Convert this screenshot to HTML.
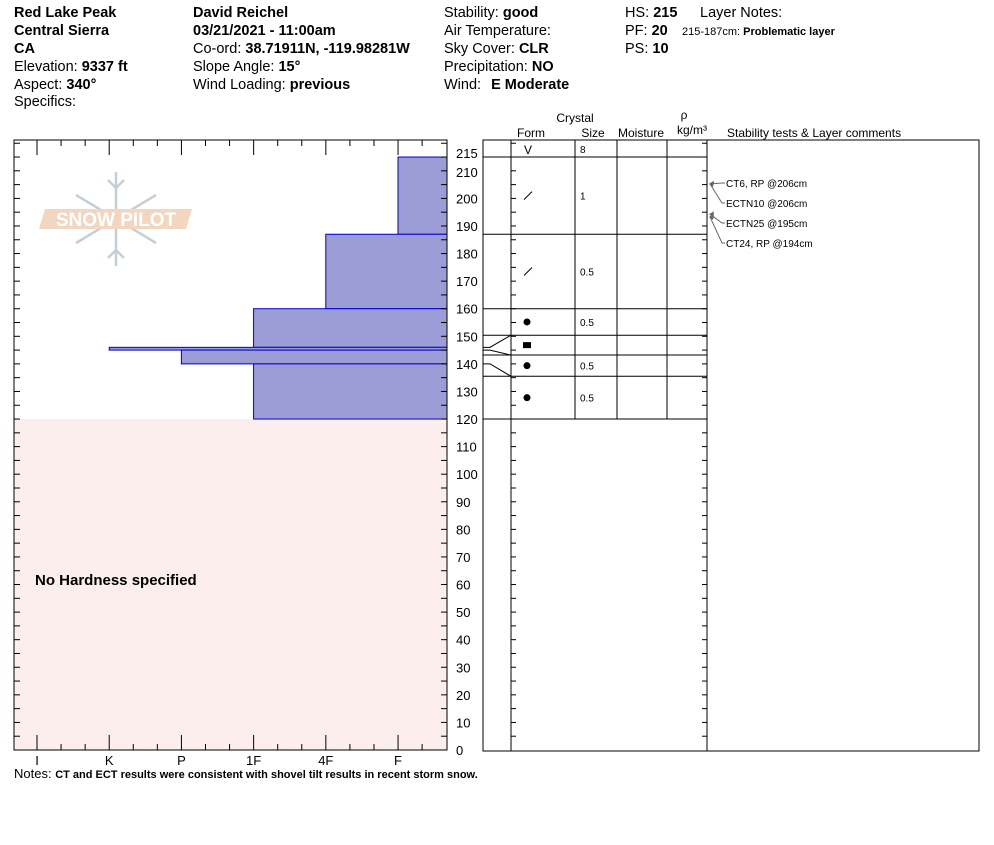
<!DOCTYPE html>
<html><head><meta charset="utf-8"><style>
body{margin:0;background:#fff;width:994px;height:840px;overflow:hidden;font-family:"Liberation Sans",Arial,sans-serif}
svg text{font-family:"Liberation Sans",Arial,sans-serif}
</style></head><body>
<svg id="c" width="994" height="840" xmlns="http://www.w3.org/2000/svg">
<g font-size="14.5" fill="#000">
<text x="14" y="17" font-weight="bold">Red Lake Peak</text>
<text x="14" y="35" font-weight="bold">Central Sierra</text>
<text x="14" y="53" font-weight="bold">CA</text>
<text x="14" y="71">Elevation: <tspan font-weight="bold">9337 ft</tspan></text>
<text x="14" y="89">Aspect: <tspan font-weight="bold">340°</tspan></text>
<text x="14" y="106">Specifics:</text>
<text x="193" y="17" font-weight="bold">David Reichel</text>
<text x="193" y="35" font-weight="bold">03/21/2021 - 11:00am</text>
<text x="193" y="53">Co-ord: <tspan font-weight="bold">38.71911N, -119.98281W</tspan></text>
<text x="193" y="71">Slope Angle: <tspan font-weight="bold">15°</tspan></text>
<text x="193" y="89">Wind Loading: <tspan font-weight="bold">previous</tspan></text>
<text x="444" y="17">Stability: <tspan font-weight="bold">good</tspan></text>
<text x="444" y="35">Air Temperature:</text>
<text x="444" y="53">Sky Cover: <tspan font-weight="bold">CLR</tspan></text>
<text x="444" y="71">Precipitation: <tspan font-weight="bold">NO</tspan></text>
<text x="444" y="89">Wind: <tspan font-weight="bold" dx="6">E Moderate</tspan></text>
<text x="625" y="17">HS: <tspan font-weight="bold">215</tspan></text>
<text x="625" y="35">PF: <tspan font-weight="bold">20</tspan></text>
<text x="625" y="53">PS: <tspan font-weight="bold">10</tspan></text>
<text x="700" y="17">Layer Notes:</text>
<text x="682" y="35" font-size="11">215-187cm: <tspan font-weight="bold">Problematic layer</tspan></text>
</g>
<g font-size="12">
<text x="575" y="122" text-anchor="middle">Crystal</text>
<text x="531" y="137" text-anchor="middle">Form</text>
<text x="593" y="137" text-anchor="middle">Size</text>
<text x="641" y="137" text-anchor="middle">Moisture</text>
<text x="684" y="119" text-anchor="middle">ρ</text>
<text x="692" y="134" text-anchor="middle">kg/m³</text>
<text x="727" y="137">Stability tests &amp; Layer comments</text>
</g>
<rect x="14" y="419" width="433" height="331" fill="#fdeeee"/>
<text x="35" y="585" font-size="15" font-weight="bold">No Hardness specified</text>
<g opacity="0.8">
<g stroke="#b7c3cc" stroke-width="2.5" fill="none">
<line x1="116" y1="172" x2="116" y2="266"/><line x1="76" y1="195" x2="156" y2="243"/><line x1="76" y1="243" x2="156" y2="195"/>
<polyline points="108,180 116,188 124,180"/><polyline points="108,258 116,250 124,258"/>
</g>
<polygon points="45,209 192,209 186,229 39,229" fill="#f0cdb0"/>
<text x="116" y="226" font-size="19" fill="#fff" text-anchor="middle" font-weight="bold">SNOW PILOT</text>
</g>
<g id="bars"></g>
<g id="axes" stroke="#000" fill="none"></g>
<g id="grid" stroke="#000" fill="none"></g>
<g id="labels" font-size="13"></g>
<text x="14" y="778" font-size="13">Notes: <tspan font-size="11" font-weight="bold">CT and ECT results were consistent with shovel tilt results in recent storm snow.</tspan></text>
</svg>
<script>
const hardnessLabels=['I','K','P','1F','4F','F'];
const layerTop=[215,187,160,146,145,140];
const layerBottom=[187,160,146,145,140,120];
const layerHardness=['F','4F','1F','K','P','1F'];
const gridBounds=[215,187,160,150.4,143.2,135.5,120];
const gridForm=['/','/','dot','sq','dot','dot'];
const gridSize=['1','0.5','0.5','','0.5','0.5'];
const testLabels=['CT6, RP @206cm','ECTN10 @206cm','ECTN25 @195cm','CT24, RP @194cm'];
const testDepths=[206,206,195,194];
const depthTicks=[0,10,20,30,40,50,60,70,80,90,100,110,120,130,140,150,160,170,180,190,200,210];

const NS='http://www.w3.org/2000/svg';
const Y=d=>750-d*2.758;
const HX=i=>37+i*72.2;
const hx=h=>HX(hardnessLabels.indexOf(h));
function mk(tag,at,parent){const e=document.createElementNS(NS,tag);for(const k in at)e.setAttribute(k,at[k]);document.getElementById(parent).appendChild(e);return e;}

layerTop.forEach((t,i)=>{
 const e=mk('rect',{x:hx(layerHardness[i]),y:Y(t),width:447-hx(layerHardness[i]),height:Y(layerBottom[i])-Y(t),fill:'#9c9cd6',stroke:'#0000cc','stroke-width':1},'bars');
 
 
});
const fr=mk('rect',{x:14,y:140,width:433,height:610,'stroke-width':1},'axes');


for(let k=-1;k<=17;k++){
 const x=HX(0)+k*24.07; if(x<15||x>446)continue;
 const L=(k%3===0)?15:6;
 mk('line',{x1:x,y1:140,x2:x,y2:140+L},'axes');
 mk('line',{x1:x,y1:750,x2:x,y2:750-L},'axes');
}
hardnessLabels.forEach((h,i)=>{
 const t=mk('text',{x:HX(i),y:765,'text-anchor':'middle',fill:'#000'},'labels');t.textContent=h;
 
 
});
for(let d=5;d<=220;d+=5){
 const y=Y(d);
 mk('line',{x1:14,y1:y,x2:20,y2:y},'axes');
 mk('line',{x1:447,y1:y,x2:441,y2:y},'axes');
 mk('line',{x1:511,y1:y,x2:516,y2:y},'grid');
 mk('line',{x1:707,y1:y,x2:702,y2:y},'grid');
}
depthTicks.concat([215]).forEach(d=>{
 let y=Y(d)+5; if(d===215)y-=4; if(d===210)y+=1;
 const t=mk('text',{x:456,y:y,fill:'#000'},'labels');t.textContent=d;
 
 
});
const g=mk('rect',{x:483,y:140,width:496,height:611},'grid');


[511,707].forEach(x=>mk('line',{x1:x,y1:140,x2:x,y2:751},'grid'));
[575,617,667].forEach(x=>mk('line',{x1:x,y1:140,x2:x,y2:Y(120)},'grid'));
gridBounds.forEach(d=>mk('line',{x1:483,y1:Y(d),x2:707,y2:Y(d)},'grid'));
let v=mk('text',{x:528,y:154,'text-anchor':'middle','font-size':'12',fill:'#000'},'labels');v.textContent='V';
let s8=mk('text',{x:580,y:153,'font-size':'10',fill:'#000'},'labels');s8.textContent='8';
gridForm.forEach((f,i)=>{
 const y=(Y(gridBounds[i])+Y(gridBounds[i+1]))/2;
 let e;
 if(f==='/')e=mk('line',{x1:524,y1:y+4,x2:532,y2:y-4,stroke:'#000'},'labels');
 else if(f==='dot')e=mk('circle',{cx:527,cy:y,r:3.5,fill:'#000'},'labels');
 else e=mk('rect',{x:523,y:y-3,width:8,height:6,fill:'#000'},'labels');
 
 
 if(gridSize[i]){const t=mk('text',{x:580,y:y+4,'font-size':'10',fill:'#000'},'labels');t.textContent=gridSize[i];
 
 }
});
[[146,3],[145,4],[140,5]].forEach(([d,gi])=>{
 mk('polyline',{points:`483,${Y(d)} 490,${Y(d)} 511,${Y(gridBounds[gi])}`},'grid');
});
testLabels.forEach((lab,i)=>{
 const ty=183+i*20, ay=Y(testDepths[i])+2;
 const t=mk('text',{x:726,y:ty+4,'font-size':'10',fill:'#000'},'labels');t.textContent=lab;
 
 
 mk('polyline',{points:`725,${ty} 722,${ty} 710,${ay}`,stroke:'#666'},'grid');
 mk('polygon',{points:`709,${ay} 714,${ay-3} 713,${ay+3}`,fill:'#666',stroke:'none'},'grid');
});
</script>
</body></html>
